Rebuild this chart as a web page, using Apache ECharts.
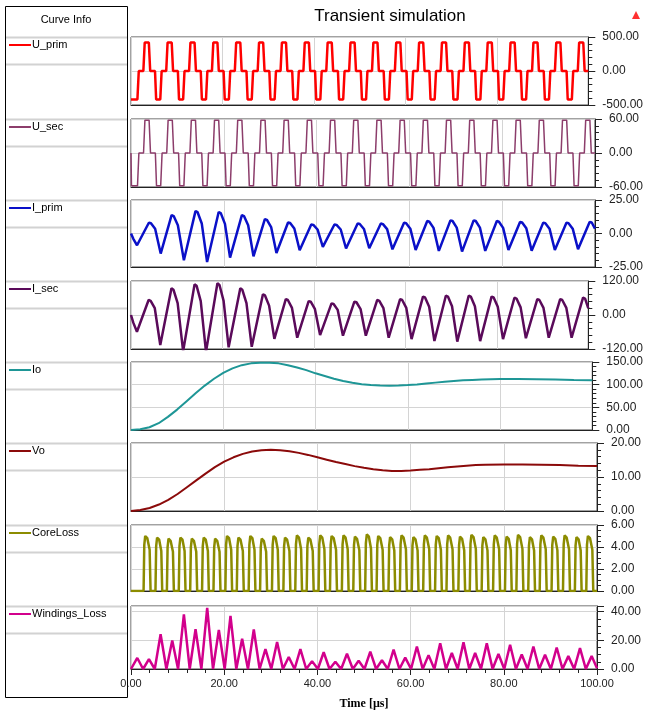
<!DOCTYPE html>
<html><head><meta charset="utf-8">
<script src="https://cdn.jsdelivr.net/npm/echarts/dist/echarts.min.js"></script>
<style>html,body{margin:0;padding:0;background:#fff}#c{width:646px;height:711px}</style>
</head><body><div id="c"></div>
<script>
// ---------- data (time in µs, value) ----------
const curveNames = ['U_prim','U_sec','I_prim','I_sec','Io','Vo','CoreLoss','Windings_Loss'];
const xTickLabels = ['0.00','20.00','40.00','60.00','80.00','100.00'];
const yMins = [-500,-60,-25,-120,0,0,0,0];
const yMaxs = [500,60,25,120,150,20,6,44];
const yIntervals = [500,60,25,120,50,10,2,20];

const uPrim = [[0,-420],[1.4,-420],[1.7,0],[2.7,0],[3,420],[3.9,420],[4.2,0],
[5.25,0],[5.5,-420],[6.4,-420],[6.7,0],[7.7,0],[8,420],[8.9,420],[9.2,0],
[10.25,0],[10.5,-420],[11.4,-420],[11.7,0],[12.7,0],[13,420],[13.9,420],[14.2,0],
[15.25,0],[15.5,-420],[16.4,-420],[16.7,0],[17.7,0],[18,420],[18.9,420],[19.2,0],
[20.25,0],[20.5,-420],[21.4,-420],[21.7,0],[22.7,0],[23,420],[23.9,420],[24.2,0],
[25.25,0],[25.5,-420],[26.4,-420],[26.7,0],[27.7,0],[28,420],[28.9,420],[29.2,0],
[30.25,0],[30.5,-420],[31.4,-420],[31.7,0],[32.7,0],[33,420],[33.9,420],[34.2,0],
[35.25,0],[35.5,-420],[36.4,-420],[36.7,0],[37.7,0],[38,420],[38.9,420],[39.2,0],
[40.25,0],[40.5,-420],[41.4,-420],[41.7,0],[42.7,0],[43,420],[43.9,420],[44.2,0],
[45.25,0],[45.5,-420],[46.4,-420],[46.7,0],[47.7,0],[48,420],[48.9,420],[49.2,0],
[50.25,0],[50.5,-420],[51.4,-420],[51.7,0],[52.7,0],[53,420],[53.9,420],[54.2,0],
[55.25,0],[55.5,-420],[56.4,-420],[56.7,0],[57.7,0],[58,420],[58.9,420],[59.2,0],
[60.25,0],[60.5,-420],[61.4,-420],[61.7,0],[62.7,0],[63,420],[63.9,420],[64.2,0],
[65.25,0],[65.5,-420],[66.4,-420],[66.7,0],[67.7,0],[68,420],[68.9,420],[69.2,0],
[70.25,0],[70.5,-420],[71.4,-420],[71.7,0],[72.7,0],[73,420],[73.9,420],[74.2,0],
[75.25,0],[75.5,-420],[76.4,-420],[76.7,0],[77.7,0],[78,420],[78.9,420],[79.2,0],
[80.25,0],[80.5,-420],[81.4,-420],[81.7,0],[82.7,0],[83,420],[83.9,420],[84.2,0],
[85.25,0],[85.5,-420],[86.4,-420],[86.7,0],[87.7,0],[88,420],[88.9,420],[89.2,0],
[90.25,0],[90.5,-420],[91.4,-420],[91.7,0],[92.7,0],[93,420],[93.9,420],[94.2,0],
[95.25,0],[95.5,-420],[96.4,-420],[96.7,0],[97.7,0],[98,420],[98.9,420],[99.2,0],[100,0]];

const uSec = [[0,0],[0.1,-58],[1.4,-58],[1.7,0],[2.7,0],[3,58],[3.9,58],[4.2,0],
[5.25,0],[5.5,-58],[6.4,-58],[6.7,0],[7.7,0],[8,58],[8.9,58],[9.2,0],
[10.25,0],[10.5,-58],[11.4,-58],[11.7,0],[12.7,0],[13,58],[13.9,58],[14.2,0],
[15.25,0],[15.5,-58],[16.4,-58],[16.7,0],[17.7,0],[18,58],[18.9,58],[19.2,0],
[20.25,0],[20.5,-58],[21.4,-58],[21.7,0],[22.7,0],[23,58],[23.9,58],[24.2,0],
[25.25,0],[25.5,-58],[26.4,-58],[26.7,0],[27.7,0],[28,58],[28.9,58],[29.2,0],
[30.25,0],[30.5,-58],[31.4,-58],[31.7,0],[32.7,0],[33,58],[33.9,58],[34.2,0],
[35.25,0],[35.5,-58],[36.4,-58],[36.7,0],[37.7,0],[38,58],[38.9,58],[39.2,0],
[40.25,0],[40.5,-58],[41.4,-58],[41.7,0],[42.7,0],[43,58],[43.9,58],[44.2,0],
[45.25,0],[45.5,-58],[46.4,-58],[46.7,0],[47.7,0],[48,58],[48.9,58],[49.2,0],
[50.25,0],[50.5,-58],[51.4,-58],[51.7,0],[52.7,0],[53,58],[53.9,58],[54.2,0],
[55.25,0],[55.5,-58],[56.4,-58],[56.7,0],[57.7,0],[58,58],[58.9,58],[59.2,0],
[60.25,0],[60.5,-58],[61.4,-58],[61.7,0],[62.7,0],[63,58],[63.9,58],[64.2,0],
[65.25,0],[65.5,-58],[66.4,-58],[66.7,0],[67.7,0],[68,58],[68.9,58],[69.2,0],
[70.25,0],[70.5,-58],[71.4,-58],[71.7,0],[72.7,0],[73,58],[73.9,58],[74.2,0],
[75.25,0],[75.5,-58],[76.4,-58],[76.7,0],[77.7,0],[78,58],[78.9,58],[79.2,0],
[80.25,0],[80.5,-58],[81.4,-58],[81.7,0],[82.7,0],[83,58],[83.9,58],[84.2,0],
[85.25,0],[85.5,-58],[86.4,-58],[86.7,0],[87.7,0],[88,58],[88.9,58],[89.2,0],
[90.25,0],[90.5,-58],[91.4,-58],[91.7,0],[92.7,0],[93,58],[93.9,58],[94.2,0],
[95.25,0],[95.5,-58],[96.4,-58],[96.7,0],[97.7,0],[98,58],[98.9,58],[99.2,0],[100,0]];

const iPrim = [[0,0],[0.5,-4],[1.3,-8.8],
[3.85,8],[4.3,7.6],[5.2,3.6],
[6.4,-15],[8.75,13.7],[9.2,13],[10.1,6.2],
[11.4,-20],[13.9,16.7],[14.35,15.9],[15.25,7.5],
[16.4,-21.3],[18.9,16],[19.35,15.2],[20.25,7.2],
[21.35,-18],[23.9,13.7],[24.35,13],[25.25,6.2],
[26.4,-17],[28.85,10.7],[29.3,10.2],[30.2,4.8],
[31.35,-14.5],[33.85,8.2],[34.3,7.8],[35.2,3.7],
[36.35,-12.5],[38.85,6.7],[39.3,6.4],[40.2,3],
[41.35,-10],[43.85,6.7],[44.3,6.4],[45.2,3],
[46.35,-11.2],[48.85,7.5],[49.3,7.1],[50.2,3.4],
[51.35,-11],[53.85,7.4],[54.3,7],[55.2,3.3],
[56.35,-11.8],[58.85,8.1],[59.3,7.7],[60.2,3.6],
[61.35,-12.3],[63.85,9.3],[64.3,8.8],[65.2,4.2],
[66.35,-13],[68.85,9.8],[69.3,9.3],[70.2,4.4],
[71.35,-13.5],[73.85,9.8],[74.3,9.3],[75.2,4.4],
[76.35,-13],[78.85,9.3],[79.3,8.8],[80.2,4.2],
[81.35,-12.3],[83.85,8.6],[84.3,8.2],[85.2,3.9],
[86.35,-12.8],[88.85,8.1],[89.3,7.7],[90.2,3.6],
[91.35,-12.3],[93.85,8.1],[94.3,7.7],[95.2,3.6],
[96.35,-11.8],[98.85,8.6],[99.3,8.2],[100,3.7]];

const iSec = [[0,0],[0.5,-27],[1.3,-59],
[3.85,53],[4.3,50],[5.2,24],
[6.4,-106],[8.85,94],[9.3,89],[10.2,42],
[11.4,-128],[13.9,108],[14.35,103],[15.25,49],
[16.4,-130],[18.9,112],[19.35,106],[20.25,50],
[21.35,-114],[23.9,94],[24.35,89],[25.25,42],
[26.4,-112],[28.85,73],[29.3,69],[30.2,33],
[31.35,-84],[33.85,56],[34.3,53],[35.2,25],
[36.35,-80],[38.85,49],[39.3,47],[40.2,22],
[41.35,-71],[43.85,41],[44.3,39],[45.2,18],
[46.35,-73],[48.85,47],[49.3,45],[50.2,21],
[51.35,-73],[53.85,53],[54.3,50],[55.2,24],
[56.35,-80],[58.85,56],[59.3,53],[60.2,25],
[61.35,-85],[63.85,65],[64.3,62],[65.2,29],
[66.35,-92],[68.85,68],[69.3,65],[70.2,31],
[71.35,-94],[73.85,68],[74.3,65],[75.2,31],
[76.35,-92],[78.85,65],[79.3,62],[80.2,29],
[81.35,-85],[83.85,61],[84.3,58],[85.2,27],
[86.35,-82],[88.85,56],[89.3,53],[90.2,25],
[91.35,-80],[93.85,56],[94.3,53],[95.2,25],
[96.35,-80],[98.85,61],[99.3,58],[100,23]];

const io = [[0,0],[2,1.5],[4,6],[6,15],[8,29],[10,45],[12,63],[14,81],[16,98],[18,113],[20,126],[22,136],[24,143],[26,147],[28,148.5],[30,148.5],[32,147],[34,143],[36,138],[38,132],[40,125],[42,119],[44,113],[46,108],[48,104],[50,101],[52,99],[54,98],[56,97.5],[58,98],[60,99],[62,100.5],[64,102.5],[66,104.5],[68,106.5],[70,108],[72,109.5],[74,110.5],[76,111.5],[78,112],[80,112.5],[84,112.5],[88,112],[92,111.5],[96,110.5],[100,110]];

const vo = [[0,0],[2,0.3],[4,0.9],[6,1.9],[8,3.3],[10,5],[12,7],[14,9],[16,11],[18,12.9],[20,14.5],[22,15.8],[24,16.8],[26,17.5],[28,17.9],[30,18],[32,17.9],[34,17.6],[36,17.1],[38,16.5],[40,15.8],[42,15.1],[44,14.4],[46,13.8],[48,13.2],[50,12.7],[52,12.3],[54,12],[56,11.8],[58,11.8],[60,11.9],[62,12.1],[64,12.3],[66,12.6],[68,12.9],[70,13.1],[72,13.3],[74,13.5],[76,13.6],[80,13.7],[84,13.7],[88,13.6],[92,13.5],[96,13.3],[100,13.2]];

const coreLoss = [[0,0],
[2.7,0],[2.85,4.2],[3.05,5],[3.5,4.8],[4,3.75],[4.2,0],
[5.25,0],[5.4,4.07],[5.6,4.85],[6.05,4.66],[6.5,3.64],[6.7,0],
[7.7,0],[7.85,3.99],[8.05,4.75],[8.5,4.56],[9,3.56],[9.2,0],
[10.25,0],[10.4,4.07],[10.6,4.85],[11.05,4.66],[11.5,3.64],[11.7,0],
[12.7,0],[12.85,3.99],[13.05,4.75],[13.5,4.56],[14,3.56],[14.2,0],
[15.25,0],[15.4,4.07],[15.6,4.85],[16.05,4.66],[16.5,3.64],[16.7,0],
[17.7,0],[17.85,3.99],[18.05,4.75],[18.5,4.56],[19,3.56],[19.2,0],
[20.25,0],[20.4,4.2],[20.6,5],[21.05,4.8],[21.5,3.75],[21.7,0],
[22.7,0],[22.85,4.07],[23.05,4.85],[23.5,4.66],[24,3.64],[24.2,0],
[25.25,0],[25.4,4.2],[25.6,5],[26.05,4.8],[26.5,3.75],[26.7,0],
[27.7,0],[27.85,3.99],[28.05,4.75],[28.5,4.56],[29,3.56],[29.2,0],
[30.25,0],[30.4,4.2],[30.6,5],[31.05,4.8],[31.5,3.75],[31.7,0],
[32.7,0],[32.85,4.07],[33.05,4.85],[33.5,4.66],[34,3.64],[34.2,0],
[35.25,0],[35.4,4.24],[35.6,5.05],[36.05,4.85],[36.5,3.79],[36.7,0],
[37.7,0],[37.85,4.07],[38.05,4.85],[38.5,4.66],[39,3.64],[39.2,0],
[40.25,0],[40.4,4.24],[40.6,5.05],[41.05,4.85],[41.5,3.79],[41.7,0],
[42.7,0],[42.85,4.2],[43.05,5],[43.5,4.8],[44,3.75],[44.2,0],
[45.25,0],[45.4,4.24],[45.6,5.05],[46.05,4.85],[46.5,3.79],[46.7,0],
[47.7,0],[47.85,4.16],[48.05,4.95],[48.5,4.75],[49,3.71],[49.2,0],
[50.25,0],[50.4,4.33],[50.6,5.15],[51.05,4.94],[51.5,3.86],[51.7,0],
[52.7,0],[52.85,4.2],[53.05,5],[53.5,4.8],[54,3.75],[54.2,0],
[55.25,0],[55.4,4.12],[55.6,4.9],[56.05,4.7],[56.5,3.68],[56.7,0],
[57.7,0],[57.85,4.24],[58.05,5.05],[58.5,4.85],[59,3.79],[59.2,0],
[60.25,0],[60.4,4.12],[60.6,4.9],[61.05,4.7],[61.5,3.68],[61.7,0],
[62.7,0],[62.85,4.24],[63.05,5.05],[63.5,4.85],[64,3.79],[64.2,0],
[65.25,0],[65.4,4.2],[65.6,5],[66.05,4.8],[66.5,3.75],[66.7,0],
[67.7,0],[67.85,4.24],[68.05,5.05],[68.5,4.85],[69,3.79],[69.2,0],
[70.25,0],[70.4,4.16],[70.6,4.95],[71.05,4.75],[71.5,3.71],[71.7,0],
[72.7,0],[72.85,4.28],[73.05,5.1],[73.5,4.9],[74,3.83],[74.2,0],
[75.25,0],[75.4,4.12],[75.6,4.9],[76.05,4.7],[76.5,3.68],[76.7,0],
[77.7,0],[77.85,4.24],[78.05,5.05],[78.5,4.85],[79,3.79],[79.2,0],
[80.25,0],[80.4,4.16],[80.6,4.95],[81.05,4.75],[81.5,3.71],[81.7,0],
[82.7,0],[82.85,4.28],[83.05,5.1],[83.5,4.9],[84,3.83],[84.2,0],
[85.25,0],[85.4,4.12],[85.6,4.9],[86.05,4.7],[86.5,3.68],[86.7,0],
[87.7,0],[87.85,4.24],[88.05,5.05],[88.5,4.85],[89,3.79],[89.2,0],
[90.25,0],[90.4,4.16],[90.6,4.95],[91.05,4.75],[91.5,3.71],[91.7,0],
[92.7,0],[92.85,4.24],[93.05,5.05],[93.5,4.85],[94,3.79],[94.2,0],
[95.25,0],[95.4,4.12],[95.6,4.9],[96.05,4.7],[96.5,3.68],[96.7,0],
[97.7,0],[97.85,4.2],[98.05,5],[98.5,4.8],[99,3.75],[99.2,0],[100,0]];

const windLoss = [[0,0],[1.35,7.7],[2.6,0],[3.85,6.9],[5.1,0],[6.35,24.3],[7.6,0],[8.85,19.9],[10.1,0],
[11.35,38.2],[12.6,0],[13.85,27.8],[15.1,0],[16.35,42.7],[17.6,0],[18.85,27.2],[20.1,0],
[21.35,37.1],[22.6,0],[23.85,21.2],[25.1,0],[26.35,27.6],[27.6,0],[28.85,13.9],[30.1,0],
[31.35,18.8],[32.6,0],[33.85,8.4],[35.1,0],[36.35,13.9],[37.6,0],[38.85,5.5],[40.1,0],
[41.35,11.7],[42.6,0],[43.85,5.1],[45.1,0],[46.35,10.6],[47.6,0],[48.85,5.7],[50.1,0],
[51.35,12.2],[52.6,0],[53.85,6.1],[55.1,0],[56.35,13.5],[57.6,0],[58.85,7.9],[60.1,0],
[61.35,15.7],[62.6,0],[63.85,9.7],[65.1,0],[66.35,18],[67.6,0],[68.85,11.2],[70.1,0],
[71.35,18.6],[72.6,0],[73.85,11.2],[75.1,0],[76.35,18],[77.6,0],[78.85,10.5],[80.1,0],
[81.35,16.9],[82.6,0],[83.85,10.1],[85.1,0],[86.35,15.7],[87.6,0],[88.85,10],[90.1,0],
[91.35,15],[92.6,0],[93.85,9],[95.1,0],[96.35,14.6],[97.6,0],[98.85,9],[100,0.5]];

const curveData = [uPrim,uSec,iPrim,iSec,io,vo,coreLoss,windLoss];

// ---------- styling / layout ----------
const colors = ['#ff0000','#8c3d6b','#0a10c8','#5a0a5a','#1e9696','#8b0a0a','#8c8c00','#d2008c'];
const widths = [2.5,1.5,2.5,2.5,2,2,2.5,2.5];
const minorSplits = [5,5,5,5,5,5,4,4];
const tops = [37,119,200,281,362,443,525,606];
const heights = [68,68,67,68,68,68,66,66];
const L = 131, R = 597;

const grids = [], xAxes = [], yAxes = [], series = [], graphics = [];
curveNames.forEach((name, i) => {
  const last = i === curveNames.length - 1;
  grids.push({left: L, top: tops[i], width: R - L, height: heights[i], show: true,
    borderColor: '#444', borderWidth: 1, backgroundColor: '#fff'});
  xAxes.push({type: 'value', gridIndex: i, min: 0, max: 100, interval: 20,
    axisLine: {show: true, onZero: false, lineStyle: {color: '#222', width: 1}},
    axisTick: {show: last, length: 6, lineStyle: {color: '#222'}},
    minorTick: {show: last, splitNumber: 5, length: 4, lineStyle: {color: '#222'}},
    axisLabel: {show: last, fontSize: 11, color: '#222', margin: 9, fontFamily: 'Liberation Sans, Arial',
      formatter: v => xTickLabels[Math.round(v / 20)]},
    splitLine: {show: true, lineStyle: {color: '#d4d4d4', width: 1}},
    name: last ? 'Time [µs]' : '', nameLocation: 'middle', nameGap: 29,
    nameTextStyle: {fontFamily: 'Liberation Serif, Times New Roman, serif', fontWeight: 'bold', fontSize: 12, color: '#000'}
  });
  yAxes.push({type: 'value', gridIndex: i, position: 'right', min: yMins[i], max: yMaxs[i], interval: yIntervals[i],
    axisLine: {show: true, onZero: false, lineStyle: {color: '#222', width: 1}},
    axisTick: {show: true, length: 7, lineStyle: {color: '#222'}},
    minorTick: {show: true, splitNumber: minorSplits[i], length: 4, lineStyle: {color: '#222'}},
    axisLabel: {fontSize: 12, color: '#222', margin: 14, fontFamily: 'Liberation Sans, Arial',
      showMaxLabel: yMaxs[i] % yIntervals[i] === 0,
      formatter: v => v.toFixed(2)},
    splitLine: {show: true, lineStyle: {color: '#d4d4d4', width: 1}}
  });
  series.push({type: 'line', name: name, xAxisIndex: i, yAxisIndex: i, data: curveData[i],
    showSymbol: false, symbol: 'none', clip: true, animation: false,
    lineStyle: {color: colors[i], width: widths[i]}});
  // legend rows in the "Curve Info" column
  const t = tops[i];
  graphics.push({type: 'line', shape: {x1: 6, y1: t + 0.5, x2: 127, y2: t + 0.5}, style: {stroke: '#d2d2d2', lineWidth: 2}});
  graphics.push({type: 'line', shape: {x1: 6, y1: t + 27.5, x2: 127, y2: t + 27.5}, style: {stroke: '#d2d2d2', lineWidth: 2}});
  graphics.push({type: 'line', shape: {x1: 9, y1: t + 8, x2: 31, y2: t + 8}, style: {stroke: colors[i], lineWidth: 2}});
  graphics.push({type: 'text', x: 32, y: t + 8, style: {text: name, fontSize: 11, fontFamily: 'Liberation Sans, Arial', fill: '#000', verticalAlign: 'middle', align: 'left'}});
});
graphics.push({type: 'rect', shape: {x: 5.5, y: 6.5, width: 122, height: 691}, style: {fill: 'none', stroke: '#000', lineWidth: 1}});
graphics.push({type: 'text', x: 66, y: 20, style: {text: 'Curve Info', fontSize: 11, fontFamily: 'Liberation Sans, Arial', fill: '#000', align: 'center', verticalAlign: 'middle'}});
graphics.push({type: 'text', x: 390, y: 16, style: {text: 'Transient simulation', fontSize: 17, fontFamily: 'Liberation Sans, Arial', fill: '#000', align: 'center', verticalAlign: 'middle'}});
graphics.push({type: 'polygon', shape: {points: [[636, 11], [632, 19], [640, 19]]}, style: {fill: '#ff3030'}});

const chart = echarts.init(document.getElementById('c'), null, {renderer: 'canvas'});
chart.setOption({animation: false, grid: grids, xAxis: xAxes, yAxis: yAxes, series: series, graphic: graphics});
</script></body></html>
